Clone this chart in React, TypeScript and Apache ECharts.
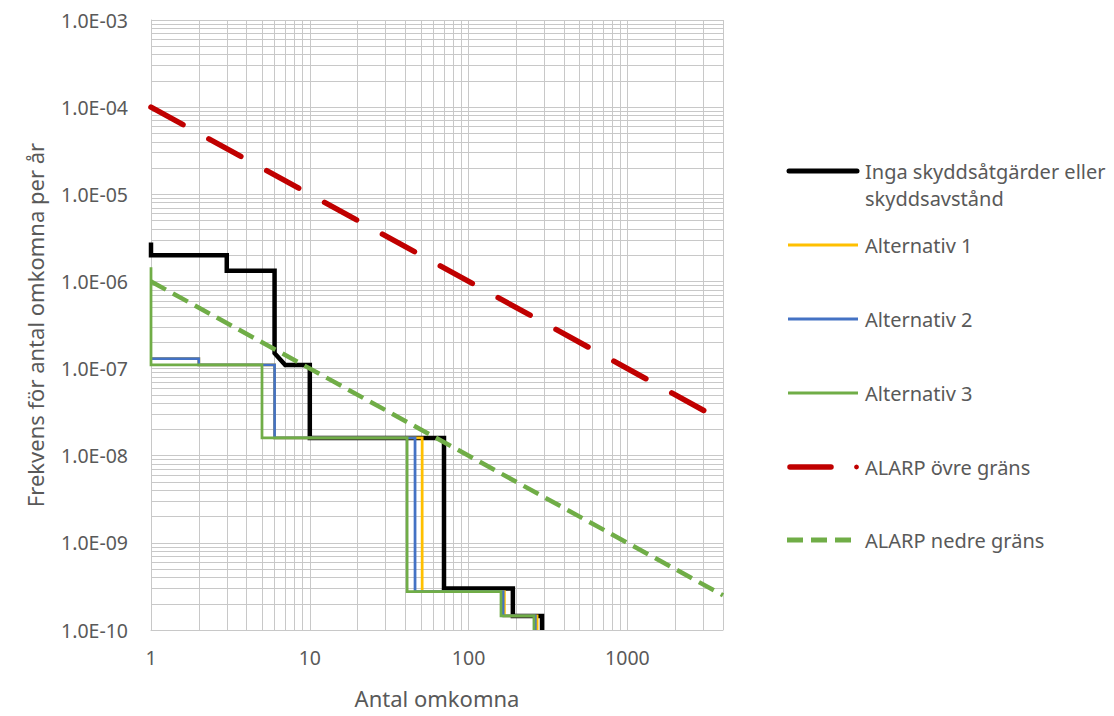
import React, { useEffect, useRef } from "react";
import * as echarts from "echarts";

// ---------- data ----------
const ingaN = [1, 1, 3, 3, 6, 6, 7, 10, 10, 70, 70, 190, 190, 290, 290];
const ingaF = [2.8e-6, 2.0e-6, 2.0e-6, 1.33e-6, 1.33e-6, 1.5e-7, 1.1e-7, 1.1e-7, 1.6e-8, 1.6e-8, 3.0e-10, 3.0e-10, 1.45e-10, 1.45e-10, 1.0e-10];

const alt1N = [1, 2, 2, 6, 6, 51, 51, 168, 168, 270, 270];
const alt1F = [1.3e-7, 1.3e-7, 1.1e-7, 1.1e-7, 1.6e-8, 1.6e-8, 2.75e-10, 2.75e-10, 1.45e-10, 1.45e-10, 1.0e-10];

const alt2N = [1, 2, 2, 6, 6, 46, 46, 165, 165, 263, 263];
const alt2F = [1.3e-7, 1.3e-7, 1.1e-7, 1.1e-7, 1.6e-8, 1.6e-8, 2.75e-10, 2.75e-10, 1.45e-10, 1.45e-10, 1.0e-10];

const alt3N = [1, 1, 5, 5, 41, 41, 160, 160, 258, 258];
const alt3F = [1.45e-6, 1.1e-7, 1.1e-7, 1.6e-8, 1.6e-8, 2.75e-10, 2.75e-10, 1.45e-10, 1.45e-10, 1.0e-10];

const alarpN = [1, 4000];
const alarpUpper = [1e-4, 2.5e-8];
const alarpLower = [1e-6, 2.5e-10];

const seriesNames = [
  "Inga skyddsåtgärder eller skyddsavstånd",
  "Alternativ 1",
  "Alternativ 2",
  "Alternativ 3",
  "ALARP övre gräns",
  "ALARP nedre gräns",
];
const legendLabels = [
  "Inga skyddsåtgärder eller\nskyddsavstånd",
  "Alternativ 1",
  "Alternativ 2",
  "Alternativ 3",
  "ALARP övre gräns",
  "ALARP nedre gräns",
];

// axis extents / tick helpers
const xMin = 1;
const xMax = 4000;
const yMin = 1e-10;
const yMax = 1e-3;
const minorMantissas = [2, 3, 4, 5, 6, 7, 8, 9];
const xMinorDecades = [1, 10, 100];
const xMinorExtra = [2000, 3000, 4000];
const yMinorDecades = [1e-10, 1e-9, 1e-8, 1e-7, 1e-6, 1e-5, 1e-4];

// ---------- styles ----------
const FONT = "'Noto Sans', 'DejaVu Sans', sans-serif";
const TEXT = "#595959";
const GRIDC = "#C8C8C8";
const COLORS = ["#000000", "#FFC000", "#4472C4", "#70AD47", "#C00000", "#70AD47"];

const zip = (xs: number[], ys: number[]) => xs.map((x, i) => [x, ys[i]]);

export default function App() {
  const ref = useRef<HTMLDivElement>(null);

  useEffect(() => {
    if (!ref.current) return;
    const chart = echarts.init(ref.current, undefined, { renderer: "svg" });

    const xMinor: number[] = [];
    xMinorDecades.forEach((d) => minorMantissas.forEach((m) => xMinor.push(m * d)));
    xMinorExtra.forEach((v) => xMinor.push(v));
    const yMinor: number[] = [];
    yMinorDecades.forEach((d) => minorMantissas.forEach((m) => yMinor.push(+(m * d).toPrecision(3))));

    const isPow10 = (v: number) => {
      const l = Math.log10(v);
      return Math.abs(l - Math.round(l)) < 1e-6;
    };

    const lineSeries = (i: number, data: number[][], width: number, extra: any = {}) => ({
      type: "line",
      name: seriesNames[i],
      data,
      showSymbol: false,
      symbol: "none",
      z: 3 + i,
      lineStyle: { color: COLORS[i], width, type: "solid", join: "miter", cap: "butt", ...extra },
      emphasis: { disabled: true },
    });

    // legend graphic
    const legendY = [171, 245, 319, 393, 467, 540];
    const legendEls: any[] = [];
    legendY.forEach((y, i) => {
      if (i === 4) {
        legendEls.push({
          type: "line",
          shape: { x1: 790, y1: y, x2: 831, y2: y },
          style: { stroke: COLORS[i], lineWidth: 5.5, lineCap: "round" },
        });
        legendEls.push({
          type: "circle",
          shape: { cx: 856.5, cy: y, r: 2.4 },
          style: { fill: COLORS[i] },
        });
      } else if (i === 5) {
        legendEls.push({
          type: "line",
          shape: { x1: 787, y1: y, x2: 852, y2: y },
          style: { stroke: COLORS[i], lineWidth: 5, lineDash: [16, 8], lineCap: "butt" },
        });
      } else {
        legendEls.push({
          type: "line",
          shape: { x1: i === 0 ? 789 : 788, y1: y, x2: i === 0 ? 857 : 858, y2: y },
          style: { stroke: COLORS[i], lineWidth: i === 0 ? 5 : 3, lineCap: i === 0 ? "round" : "butt" },
        });
      }
      const label = legendLabels[i];
      const multi = label.indexOf("\n") >= 0;
      legendEls.push({
        type: "text",
        x: 865,
        y: multi ? y - 13.75 : y,
        style: {
          text: label,
          fill: TEXT,
          fontSize: 20,
          fontFamily: FONT,
          lineHeight: 27.5,
          verticalAlign: multi ? "top" : "middle",
          align: "left",
        },
      });
    });

    chart.setOption({
      animation: false,
      backgroundColor: "#ffffff",
      grid: { left: 151, top: 20, width: 572, height: 610, containLabel: false },
      xAxis: {
        type: "log",
        logBase: 10,
        min: xMin,
        max: xMax,
        splitNumber: 4,
        name: "Antal omkomna",
        nameLocation: "middle",
        nameGap: 57,
        nameTextStyle: { fontFamily: FONT, fontSize: 22, color: TEXT },
        axisLine: { show: true, lineStyle: { color: GRIDC, width: 1 } },
        axisTick: { show: false },
        axisLabel: {
          fontFamily: FONT,
          fontSize: 19.5,
          color: TEXT,
          margin: 17,
          showMaxLabel: false,
          formatter: (v: number) => (isPow10(v) ? String(Math.round(v)) : ""),
        },
        splitLine: { show: true, lineStyle: { color: GRIDC, width: 1 } },
      },
      yAxis: {
        type: "log",
        logBase: 10,
        min: yMin,
        max: yMax,
        splitNumber: 7,
        name: "Frekvens för antal omkomna per år",
        nameLocation: "middle",
        nameRotate: 90,
        nameGap: 105,
        nameTextStyle: { fontFamily: FONT, fontSize: 22, color: TEXT },
        axisLine: { show: true, lineStyle: { color: GRIDC, width: 1 } },
        axisTick: { show: false },
        axisLabel: {
          fontFamily: FONT,
          fontSize: 19.5,
          color: TEXT,
          margin: 23,
          formatter: (v: number) => {
            const e = Math.round(Math.log10(v));
            return "1.0E" + (e < 0 ? "-" : "+") + String(Math.abs(e)).padStart(2, "0");
          },
        },
        splitLine: { show: true, lineStyle: { color: GRIDC, width: 1 } },
      },
      series: [
        {
          type: "line",
          name: "grid",
          data: [],
          z: 1,
          silent: true,
          showSymbol: false,
          markLine: {
            z: 1,
            silent: true,
            symbol: ["none", "none"],
            label: { show: false },
            emphasis: { disabled: true },
            lineStyle: { color: GRIDC, width: 1, type: "solid" },
            data: [
              ...xMinor.map((v) => [{ coord: [v, yMin] }, { coord: [v, yMax] }]),
              ...yMinor.map((v) => [{ coord: [xMin, v] }, { coord: [xMax, v] }]),
            ],
          },
        },
        lineSeries(0, zip(ingaN, ingaF), 4.5),
        lineSeries(1, zip(alt1N, alt1F), 2.75),
        lineSeries(2, zip(alt2N, alt2F), 2.75),
        lineSeries(3, zip(alt3N, alt3F), 2.75),
        lineSeries(4, zip(alarpN, alarpUpper), 5.5, { type: [36.5, 29.5], cap: "round" }),
        lineSeries(5, zip(alarpN, alarpLower), 4.5, { type: [17, 8], cap: "butt" }),
      ],
      graphic: legendEls,
    });

    return () => chart.dispose();
  }, []);

  return (
    <div
      ref={ref}
      style={{ position: "absolute", left: 0, top: 0, width: 1114, height: 716, background: "#fff" }}
    />
  );
}
